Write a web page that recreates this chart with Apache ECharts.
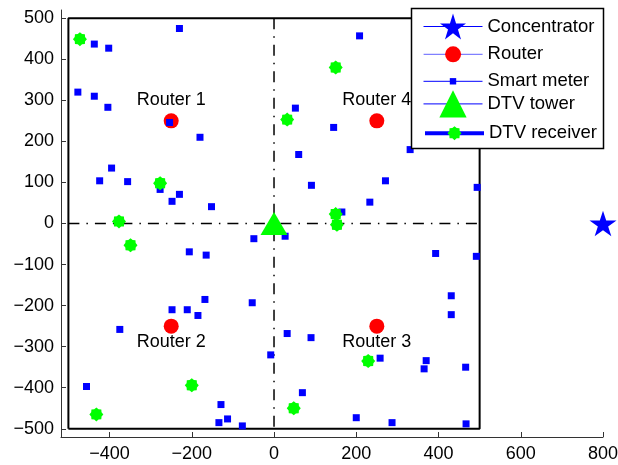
<!DOCTYPE html>
<html>
<head>
<meta charset="UTF-8">
<title>Network layout</title>
<script type="text/javascript" src="https://cdn.jsdelivr.net/npm/echarts@6/dist/echarts.min.js"></script>
</head>
<body style="margin:0">
<div id="main" style="width:618px;height:465px;"></div>
<script type="text/javascript">
// node positions (x, y)
var concentrator = [[800, 0]];
var routers = [[-250, 250], [-250, -250], [250, -250], [250, 250]];
var routerNames = ['Router 1', 'Router 2', 'Router 3', 'Router 4'];
var meters = [
  [-230, 475], [-437, 437], [-402, 427], [-477, 320], [-437, 310], [-404, 283],
  [-254, 246], [-180, 210], [-395, 135], [-424, 104], [-356, 102], [-277, 83],
  [-248, 54], [-230, 71], [-152, 41],
  [52, 281], [145, 234], [60, 168], [91, 93], [165, 28],
  [208, 457], [331, 180], [271, 104], [233, 52], [494, 88],
  [-206, -69], [-165, -77], [-248, -210], [-211, -210], [-185, -224], [-168, -185],
  [-375, -258], [-456, -397],
  [-49, -37], [27, -31], [-53, -193], [32, -268], [90, -278], [-8, -320],
  [69, -412], [-129, -441], [-113, -476], [-134, -485], [-77, -493],
  [393, -73], [492, -80], [431, -176], [431, -222], [258, -328], [370, -334],
  [365, -354], [466, -350], [200, -473], [287, -485], [467, -488]
];
var tower = [[0, 0]];
var receivers = [
  [-472, 449], [-277, 98], [-377, 5], [-349, -53], [-200, -394], [-432, -465],
  [32, 253], [150, 380], [150, 23], [153, -3], [48, -450], [229, -335]
];
var boxLim = [-500, 500];
var xTicks = [-400, -200, 0, 200, 400, 600, 800];
var yTicks = [-500, -400, -300, -200, -100, 0, 100, 200, 300, 400, 500];

var font = "'Liberation Sans', Arial, sans-serif";

function fmt(v) {
  return v < 0 ? '\u2212' + (-v) : String(v);
}

// star-shaped symbol paths
function starPath(n, rOut, rIn, rot) {
  var s = '';
  for (var i = 0; i < 2 * n; i++) {
    var r = i % 2 === 0 ? rOut : rIn;
    var a = rot + Math.PI * i / n;
    var px = (r * Math.sin(a)).toFixed(3);
    var py = (-r * Math.cos(a)).toFixed(3);
    s += (i === 0 ? 'M' : 'L') + px + ' ' + py + ' ';
  }
  return 'path://' + s + 'Z';
}
var pentagram = starPath(5, 1, 0.382, 0);
var asterisk = starPath(8, 1, 0.8, 0);

var boxData = [
  [boxLim[0], boxLim[0]], [boxLim[1], boxLim[0]], [boxLim[1], boxLim[1]],
  [boxLim[0], boxLim[1]], [boxLim[0], boxLim[0]]
];
var hLine = [[boxLim[0], 0], [boxLim[1], 0]];
var vLine = [[0, boxLim[1]], [0, boxLim[0]]];

var routerData = routers.map(function (p, i) {
  return {
    value: p,
    name: routerNames[i],
    label: p[1] > 0 ? { position: 'top', distance: 4 } : { position: 'bottom', distance: -1 }
  };
});

function legendFor(name, top, ih, lineColor, lineWidth) {
  return {
    data: [name],
    left: 423,
    top: top,
    padding: 0,
    itemWidth: 59,
    itemHeight: ih,
    itemGap: 0,
    selectedMode: false,
    z: 20,
    textStyle: { fontSize: 18.5, color: '#000', fontFamily: font },
    lineStyle: { color: lineColor, width: lineWidth, opacity: 1, type: 'solid' },
    itemStyle: { borderWidth: 0 }
  };
}

var chart = echarts.init(document.getElementById('main'));
chart.setOption({
  animation: false,
  backgroundColor: '#fff',
  textStyle: { fontFamily: font },
  grid: { left: 61, right: 15, top: 10, bottom: 28, containLabel: false, outerBoundsMode: 'none' },
  xAxis: {
    type: 'value', min: -518, max: 800,
    axisLine: { show: true, onZero: false, lineStyle: { color: '#333', width: 1 } },
    axisTick: { show: true, inside: true, length: 5, customValues: xTicks, lineStyle: { color: '#333' } },
    axisLabel: { customValues: xTicks, formatter: fmt, fontSize: 18, color: '#000', margin: 8 },
    splitLine: { show: false }
  },
  yAxis: {
    type: 'value', min: -520, max: 520,
    axisLine: { show: true, onZero: false, lineStyle: { color: '#333', width: 1 } },
    axisTick: { show: true, inside: true, length: 5, customValues: yTicks, lineStyle: { color: '#333' } },
    axisLabel: { customValues: yTicks, formatter: fmt, fontSize: 18, color: '#000', margin: 7 },
    splitLine: { show: false }
  },
  graphic: [{
    type: 'rect', z: 10,
    shape: { x: 411.5, y: 8.5, width: 192, height: 140 },
    style: { fill: '#fff', stroke: '#000', lineWidth: 1.5 }
  }],
  legend: [
    legendFor('Concentrator', 13.5, 32.5, '#0000ff', 1),
    legendFor('Router', 44.8, 20, '#8080ff', 1.2),
    legendFor('Smart meter', 71.8, 8, '#0000ff', 1),
    legendFor('DTV tower', 90.3, 34, '#0000ff', 1),
    legendFor('DTV receiver', 123.7, 17.5, '#0000ff', 4)
  ],
  series: [
    {
      type: 'line', data: boxData, symbol: 'none', silent: true,
      lineStyle: { color: '#000', width: 2 }
    },
    {
      name: 'Router', type: 'line', data: routerData,
      symbol: 'circle', symbolSize: 15,
      itemStyle: { color: '#ff0000', borderWidth: 0 },
      lineStyle: { width: 0 },
      label: { show: true, formatter: '{b}', fontSize: 18, color: '#000', fontFamily: font }
    },
    {
      name: 'Smart meter', type: 'line', data: meters,
      symbol: 'rect', symbolSize: 7,
      itemStyle: { color: '#0000ff', borderWidth: 0 },
      lineStyle: { width: 0 }
    },
    {
      name: 'DTV receiver', type: 'line', data: receivers,
      symbol: asterisk, symbolSize: 14,
      itemStyle: { color: '#00ff00', borderWidth: 0 },
      lineStyle: { width: 0 }
    },
    {
      name: 'DTV tower', type: 'line', data: tower,
      symbol: 'triangle', symbolSize: [27, 23],
      itemStyle: { color: '#00ff00', borderWidth: 0 },
      lineStyle: { width: 0 }
    },
    {
      type: 'line', data: hLine, symbol: 'none', silent: true,
      lineStyle: { color: '#000', width: 1.5, type: [11, 7, 1.5, 7] }
    },
    {
      type: 'line', data: vLine, symbol: 'none', silent: true,
      lineStyle: { color: '#000', width: 1.5, type: [11, 7, 1.5, 7] }
    },
    {
      name: 'Concentrator', type: 'line', data: concentrator,
      symbol: pentagram, symbolSize: 27, symbolKeepAspect: true,
      itemStyle: { color: '#0000ff', borderWidth: 0 },
      lineStyle: { width: 0 }
    }
  ]
});
</script>
</body>
</html>
